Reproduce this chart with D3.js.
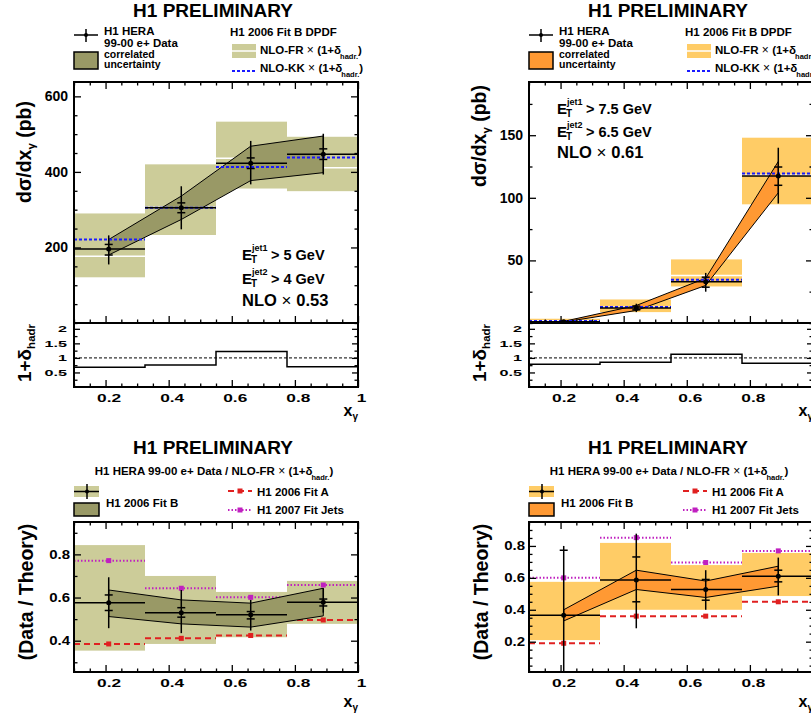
<!DOCTYPE html>
<html>
<head>
<meta charset="utf-8">
<script src="https://cdn.jsdelivr.net/npm/d3@7"></script>
<style>
  body { margin: 0; background: #fff; }
  svg { display: block; font-family: "Liberation Sans", Arial, Helvetica, sans-serif; font-weight: bold; }
  .axis path { display: none; }
  .axis line { stroke: #000; stroke-width: 1.3; }
  .axis text { fill: #000; font-weight: bold; font-family: "Liberation Sans", Arial, Helvetica, sans-serif; }
</style>
</head>
<body>
<svg id="chart" width="811" height="713"></svg>
<script>
// x_gamma binning (same for all four plots)
var xEdges = [0.1, 0.325, 0.55, 0.775, 1.0];
var xPoints = [0.21, 0.44, 0.66, 0.89];
var xTicks = [0.2, 0.4, 0.6, 0.8, 1];

// ---- left column: E_T jet1 > 5 GeV, jet2 > 4 GeV ----
var xsLo = [196, 305, 423, 447];
var xsLoStat = [[180, 208], [292, 318], [409, 437], [433, 461]];
var xsLoTot = [[155, 232], [248, 362], [367, 482], [393, 501]];
var xsLoCorrUp = [221, 336, 468, 495];
var xsLoCorrDn = [180, 274, 377, 398];
var nloFrLoUp = [290, 420, 533, 493];
var nloFrLoDn = [121, 233, 356, 349];
var nloFrLo = [177, 306, 436, 411];
var nloKkLo = [221, 305, 413, 438];
var hadrLo = [0.68, 0.76, 1.22, 0.70];
var yTicksLo = [200, 400, 600];

var ratLo = [0.576, 0.53, 0.52, 0.578];
var ratLoStat = [[0.54, 0.612], [0.509, 0.553], [0.501, 0.535], [0.561, 0.593]];
var ratLoTot = [[0.458, 0.694], [0.435, 0.635], [0.447, 0.589], [0.53, 0.643]];
var ratLoCorrUp = [0.635, 0.589, 0.574, 0.643];
var ratLoCorrDn = [0.512, 0.478, 0.463, 0.515];
var ratLoFrUp = [0.843, 0.70, 0.626, 0.677];
var ratLoFrDn = [0.354, 0.385, 0.416, 0.478];
var fitALo = [0.385, 0.411, 0.424, 0.496];
var fitJetsLo = [0.771, 0.643, 0.601, 0.658];
var rTicksLo = [0.4, 0.6, 0.8];

// ---- right column: E_T jet1 > 7.5 GeV, jet2 > 6.5 GeV ----
var xsHi = [1.0, 12, 33, 117.5];
var xsHiStat = [[0.8, 1.2], [10.5, 13.5], [28.6, 36.6], [110, 124.6]];
var xsHiTot = [[0.6, 1.4], [8.7, 15.4], [25, 40], [95.4, 140]];
var xsHiCorrUp = [1.3, 14, 35.8, 129];
var xsHiCorrDn = [0.8, 10, 30, 104];
var nloFrHiUp = [3.4, 18.8, 50.8, 148];
var nloFrHiDn = [0.3, 8.7, 29.2, 94.8];
var nloFrHi = [1.5, 12.5, 38, 118];
var nloKkHi = [1.5, 12.7, 34.5, 119.4];
var hadrHi = [0.78, 0.85, 1.13, 0.82];
var yTicksHi = [50, 100, 150];

var ratHi = [0.365, 0.587, 0.527, 0.61];
var ratHiStat = [[-0.05, 0.773], [0.45, 0.731], [0.46, 0.59], [0.575, 0.648]];
var ratHiTot = [[-0.08, 0.80], [0.284, 0.877], [0.40, 0.648], [0.49, 0.727]];
var ratHiCorrUp = [0.40, 0.648, 0.58, 0.673];
var ratHiCorrDn = [0.33, 0.527, 0.477, 0.548];
var ratHiFrUp = [0.575, 0.819, 0.68, 0.756];
var ratHiFrDn = [0.21, 0.40, 0.40, 0.486];
var fitAHi = [0.19, 0.36, 0.36, 0.45];
var fitJetsHi = [0.60, 0.852, 0.696, 0.769];
var rTicksHi = [0.2, 0.4, 0.6, 0.8];

var hadrTicks = [0.5, 1, 1.5, 2];

// frame geometry
var FX0 = 74, FX1 = 358, MAIN_T = 82, MAIN_B = 323, RAT_B = 387, BOT_T = 522, BOT_B = 672, COL_DX = 455;

var svg = d3.select('#chart');
var clipN = 0;

function steps(a, b, s) {
    var out = [];
    for (var i = Math.round(a / s); i * s <= b + 1e-9; i++) out.push(+(i * s).toFixed(4));
    return out;
}
function minorOf(a, b, s, majors) {
    return steps(a, b, s).filter(function(v) {
        return !majors.some(function(m) { return Math.abs(m - v) < 1e-6; });
    });
}

function clipped(g, x, y) {
    var id = 'clip' + (clipN++);
    var xr = x.range(), yr = y.range();
    g.append('clipPath').attr('id', id).append('rect')
        .attr('x', xr[0]).attr('y', yr[1]).attr('width', xr[1] - xr[0]).attr('height', yr[0] - yr[1]);
    return g.append('g').attr('clip-path', 'url(#' + id + ')');
}

// ROOT style: ticks inside the frame on all four sides
function drawAxes(g, x, y, o) {
    var xr = x.range(), yr = y.range();
    function mk(axis, tr) { return g.append('g').attr('class', 'axis').attr('transform', tr).call(axis); }
    var xMinor = minorOf(0.1, 1, 0.05, xTicks);
    var yMinor = o.yMinor;
    var fmt = function(d) { return String(d); };

    mk(d3.axisBottom(x).tickValues(xMinor).tickSize(-3.5).tickFormat(''), 'translate(0,' + yr[0] + ')');
    var bx = mk(d3.axisBottom(x).tickValues(xTicks).tickSize(-7).tickPadding(o.xPad || 0)
        .tickFormat(o.xLabels ? fmt : ''), 'translate(0,' + yr[0] + ')');
    if (o.xLabels) {
        bx.selectAll('text').style('font-size', o.xFont + 'px')
            .attr('transform', 'translate(3,0) scale(' + o.xScale + ',1)');
    }
    if (o.top) {
        mk(d3.axisTop(x).tickValues(xMinor).tickSize(-3.5).tickFormat(''), 'translate(0,' + yr[1] + ')');
        mk(d3.axisTop(x).tickValues(xTicks).tickSize(-7).tickFormat(''), 'translate(0,' + yr[1] + ')');
    }
    mk(d3.axisLeft(y).tickValues(yMinor).tickSize(-3.5).tickFormat(''), 'translate(' + xr[0] + ',0)');
    var ly = mk(d3.axisLeft(y).tickValues(o.yTicks).tickSize(-o.yTick).tickPadding(o.yPad / o.yScale)
        .tickFormat(fmt), 'translate(' + xr[0] + ',0)');
    ly.selectAll('text').style('font-size', o.yFont + 'px')
        .attr('transform', 'scale(' + o.yScale + ',1)');
    mk(d3.axisRight(y).tickValues(yMinor).tickSize(-3.5).tickFormat(''), 'translate(' + xr[1] + ',0)');
    mk(d3.axisRight(y).tickValues(o.yTicks).tickSize(-o.yTick).tickFormat(''), 'translate(' + xr[1] + ',0)');
}

function frame(g, x, y) {
    var xr = x.range(), yr = y.range();
    g.append('rect').attr('x', xr[0]).attr('y', yr[1])
        .attr('width', xr[1] - xr[0]).attr('height', yr[0] - yr[1])
        .attr('fill', 'none').attr('stroke', '#000').attr('stroke-width', 2);
}

function nloBoxes(g, x, y, up, dn, fill) {
    g.selectAll(null).data(d3.range(4)).join('rect')
        .attr('x', function(i) { return x(xEdges[i]); })
        .attr('width', function(i) { return x(xEdges[i + 1]) - x(xEdges[i]); })
        .attr('y', function(i) { return y(up[i]); })
        .attr('height', function(i) { return y(dn[i]) - y(up[i]); })
        .attr('fill', fill);
}

function binLines(g, x, y, vals, stroke, width, dash) {
    g.selectAll(null).data(vals).join('line')
        .attr('x1', function(d, i) { return x(xEdges[i]); })
        .attr('x2', function(d, i) { return x(xEdges[i + 1]); })
        .attr('y1', function(d) { return y(d); })
        .attr('y2', function(d) { return y(d); })
        .attr('stroke', stroke).attr('stroke-width', width)
        .attr('stroke-dasharray', dash || null);
}

function band(g, x, y, up, dn, fill) {
    var pts = xPoints.map(function(p, i) { return [x(p), y(up[i])]; });
    var low = xPoints.map(function(p, i) { return [x(p), y(dn[i])]; }).reverse();
    g.append('path').attr('d', d3.line()(pts.concat(low)) + 'Z')
        .attr('fill', fill).attr('stroke', '#000').attr('stroke-width', 1);
}

function dataPoints(g, x, y, vals, stat, tot) {
    binLines(g, x, y, vals, '#000', 1.5);
    xPoints.forEach(function(p, i) {
        var cx = x(p);
        g.append('line').attr('x1', cx).attr('x2', cx)
            .attr('y1', y(tot[i][0])).attr('y2', y(tot[i][1]))
            .attr('stroke', '#000').attr('stroke-width', 1.5);
        stat[i].forEach(function(v) {
            g.append('line').attr('x1', cx - 4).attr('x2', cx + 4)
                .attr('y1', y(v)).attr('y2', y(v))
                .attr('stroke', '#000').attr('stroke-width', 1.5);
        });
        g.append('circle').attr('cx', cx).attr('cy', y(vals[i])).attr('r', 2.5).attr('fill', '#000');
    });
}

function fitLine(g, x, y, vals, color, dash, width) {
    binLines(g, x, y, vals, color, width, dash);
    g.selectAll(null).data(vals).join('rect')
        .attr('x', function(d, i) { return x(xPoints[i]) - 2.5; })
        .attr('y', function(d) { return y(d) - 2.5; })
        .attr('width', 5).attr('height', 5).attr('fill', color);
}

// text with tspans: parts = [[text, size, dy, weight, dx]]
function rich(g, x, y, parts, anchor) {
    var t = g.append('text').attr('x', x).attr('y', y).attr('text-anchor', anchor || 'start');
    parts.forEach(function(p) {
        t.append('tspan').text(p[0]).style('font-size', p[1] + 'px')
            .attr('dy', p[2] || 0).attr('dx', p[4] || 0)
            .style('font-weight', p[3] || 'bold');
    });
    return t;
}

function hadrParts(size, sub) {
    return [['(1+δ', size], ['hadr.', sub, 5, 'bold', -1], [')', size, -5]];
}

function fitLegend(g, yy, color, dash) {
    g.append('line').attr('x1', 228).attr('x2', 252).attr('y1', yy).attr('y2', yy)
        .attr('stroke', color).attr('stroke-width', 2).attr('stroke-dasharray', dash);
    g.append('rect').attr('x', 237.5).attr('y', yy - 2.5).attr('width', 5).attr('height', 5).attr('fill', color);
}

var RED = '#e02020', MAG = '#c020c0', BLUE = '#1a1aff';

var cols = [
    { dx: 0, light: '#cccc99', dark: '#999966', yDom: [0, 638], yTicks: yTicksLo, yMinor: minorOf(0, 638, 50, yTicksLo),
      xs: xsLo, stat: xsLoStat, tot: xsLoTot, cUp: xsLoCorrUp, cDn: xsLoCorrDn,
      frUp: nloFrLoUp, frDn: nloFrLoDn, fr: nloFrLo, kk: nloKkLo, hadr: hadrLo,
      rDom: [0.255, 0.95], rTicks: rTicksLo, rMinor: minorOf(0.3, 0.9, 0.1, rTicksLo),
      rat: ratLo, rStat: ratLoStat, rTot: ratLoTot, rcUp: ratLoCorrUp, rcDn: ratLoCorrDn,
      rFrUp: ratLoFrUp, rFrDn: ratLoFrDn, fitA: fitALo, fitJ: fitJetsLo,
      cut1: '> 5 GeV', cut2: '> 4 GeV', scale: '0.53', cutX: 242, cutY: [260, 284, 306], titleY: 152 },
    { dx: COL_DX, light: '#ffcc66', dark: '#ff9933', yDom: [0, 192.5], yTicks: yTicksHi, yMinor: minorOf(0, 192, 25, yTicksHi),
      xs: xsHi, stat: xsHiStat, tot: xsHiTot, cUp: xsHiCorrUp, cDn: xsHiCorrDn,
      frUp: nloFrHiUp, frDn: nloFrHiDn, fr: nloFrHi, kk: nloKkHi, hadr: hadrHi,
      rDom: [0.01, 0.95], rTicks: rTicksHi, rMinor: minorOf(0.05, 0.9, 0.05, rTicksHi),
      rat: ratHi, rStat: ratHiStat, rTot: ratHiTot, rcUp: ratHiCorrUp, rcDn: ratHiCorrDn,
      rFrUp: ratHiFrUp, rFrDn: ratHiFrDn, fitA: fitAHi, fitJ: fitJetsHi,
      cut1: '> 7.5 GeV', cut2: '> 6.5 GeV', scale: '0.61', cutX: 557, cutY: [114, 137, 158], titleY: 136 }
];

cols.forEach(function(c) {
    var dx = c.dx;
    var g = svg.append('g');
    var x = d3.scaleLinear().domain([0.1, 1]).range([FX0 + dx, FX1 + dx]);

    // ---------- cross section ----------
    var y = d3.scaleLinear().domain(c.yDom).range([MAIN_B, MAIN_T]);
    var pg = clipped(g, x, y);
    nloBoxes(pg, x, y, c.frUp, c.frDn, c.light);
    binLines(pg, x, y, c.fr, '#fff', 1.5);
    band(pg, x, y, c.cUp, c.cDn, c.dark);
    binLines(pg, x, y, c.kk, BLUE, 2, '3,2');
    dataPoints(pg, x, y, c.xs, c.stat, c.tot);
    drawAxes(g, x, y, { top: true, xLabels: false, yTicks: c.yTicks, yMinor: c.yMinor, yTick: 7,
        yFont: 14, yScale: 1, yPad: 6 });
    frame(g, x, y);

    // ---------- hadronisation correction ----------
    var yh = d3.scaleLinear().domain([0, 2.2]).range([RAT_B, MAIN_B]);
    g.append('line').attr('x1', x(0.1)).attr('x2', x(1)).attr('y1', yh(1)).attr('y2', yh(1))
        .attr('stroke', '#000').attr('stroke-width', 1).attr('stroke-dasharray', '3,2');
    var stepPts = xEdges.map(function(e, i) { return [e, c.hadr[Math.min(i, 3)]]; });
    g.append('path')
        .attr('d', d3.line().x(function(d) { return x(d[0]); }).y(function(d) { return yh(d[1]); })
            .curve(d3.curveStepAfter)(stepPts))
        .attr('fill', 'none').attr('stroke', '#000').attr('stroke-width', 1.5);
    drawAxes(g, x, yh, { top: false, xLabels: true, xFont: 10.5, xScale: 1.65, xPad: 8,
        yTicks: hadrTicks, yMinor: minorOf(0.25, 2.0, 0.25, hadrTicks), yTick: 6,
        yFont: 8.5, yScale: 1.9, yPad: 7 });
    frame(g, x, yh);

    // ---------- data / theory ----------
    var yr = d3.scaleLinear().domain(c.rDom).range([BOT_B, BOT_T]);
    var rg = clipped(g, x, yr);
    nloBoxes(rg, x, yr, c.rFrUp, c.rFrDn, c.light);
    fitLine(rg, x, yr, c.fitA, RED, '6,4', 2);
    fitLine(rg, x, yr, c.fitJ, MAG, '1.5,2', 2);
    band(rg, x, yr, c.rcUp, c.rcDn, c.dark);
    dataPoints(rg, x, yr, c.rat, c.rStat, c.rTot);
    drawAxes(g, x, yr, { top: true, xLabels: true, xFont: 11.5, xScale: 1.5, xPad: 7,
        yTicks: c.rTicks, yMinor: c.rMinor, yTick: 7, yFont: 12.5, yScale: 1.2, yPad: 4 });
    frame(g, x, yr);

    // ---------- titles ----------
    g.append('text').attr('x', 213 + dx).attr('y', 17).attr('text-anchor', 'middle')
        .style('font-size', '19px').text('H1 PRELIMINARY');
    g.append('text').attr('x', 213 + dx).attr('y', 454).attr('text-anchor', 'middle')
        .style('font-size', '19px').text('H1 PRELIMINARY');
    rich(g, 214 + dx, 475, [['H1 HERA 99-00 e+ Data / NLO-FR', 11.5], [' × ', 12, 0, 'normal']]
        .concat(hadrParts(11.5, 7.5)), 'middle');

    // axis titles
    rich(g, 0, 0, [['dσ/dx', 19.5], ['γ', 11.5, 4], [' (pb)', 19.5, -4]], 'middle')
        .attr('transform', 'translate(' + (31 + dx) + ',' + c.titleY + ') rotate(-90)');
    rich(g, 0, 0, [['1+δ', 19], ['hadr', 11.5, 4]], 'middle')
        .attr('transform', 'translate(' + (31 + dx) + ',353) rotate(-90)');
    rich(g, 0, 0, [['(Data / Theory)', 19.5]], 'middle')
        .attr('transform', 'translate(' + (33 + dx) + ',592) rotate(-90)');
    [416, 707].forEach(function(by) {
        rich(g, 358 + dx, by, [['x', 16], ['γ', 10, 4]], 'end');
    });

    // cut annotations
    var cx0 = c.cutX;
    [[c.cutY[0], 'jet1', c.cut1], [c.cutY[1], 'jet2', c.cut2]].forEach(function(r) {
        g.append('text').attr('x', cx0).attr('y', r[0]).style('font-size', '15px').text('E');
        g.append('text').attr('x', cx0 + 10).attr('y', r[0] - 9).style('font-size', '9px').text(r[1]);
        g.append('text').attr('x', cx0 + 9).attr('y', r[0] + 3).style('font-size', '10px').text('T');
        g.append('text').attr('x', cx0 + 29).attr('y', r[0]).style('font-size', '14.5px').text(r[2]);
    });
    rich(g, cx0, c.cutY[2], [['NLO', 16.5], [' × ', 17, 0, 'normal'], [c.scale, 16.5]]);

    // ---------- top legend ----------
    var lg = g.append('g').attr('transform', 'translate(' + dx + ',0)');
    lg.append('line').attr('x1', 74).attr('x2', 98).attr('y1', 35).attr('y2', 35).attr('stroke', '#000').attr('stroke-width', 1.5);
    lg.append('line').attr('x1', 86).attr('x2', 86).attr('y1', 29).attr('y2', 42).attr('stroke', '#000').attr('stroke-width', 1.5);
    lg.append('circle').attr('cx', 86).attr('cy', 35).attr('r', 2).attr('fill', '#000');
    lg.append('rect').attr('x', 74).attr('y', 52).attr('width', 24).attr('height', 17)
        .attr('fill', c.dark).attr('stroke', '#000').attr('stroke-width', 1.5);
    lg.append('text').attr('x', 104).attr('y', 35).style('font-size', '11.5px').text('H1 HERA');
    lg.append('text').attr('x', 104).attr('y', 46.5).style('font-size', '11.5px').text('99-00 e+ Data');
    lg.append('text').attr('x', 104).attr('y', 58).style('font-size', '10.5px').text('correlated');
    lg.append('text').attr('x', 104).attr('y', 67.5).style('font-size', '10.5px').text('uncertainty');
    lg.append('text').attr('x', 230).attr('y', 36).style('font-size', '11.5px').text('H1 2006 Fit B DPDF');
    lg.append('rect').attr('x', 232).attr('y', 44).attr('width', 24).attr('height', 14).attr('fill', c.light);
    lg.append('line').attr('x1', 232).attr('x2', 256).attr('y1', 51).attr('y2', 51).attr('stroke', '#fff').attr('stroke-width', 1.5);
    rich(lg, 260, 54, [['NLO-FR', 11.5], [' × ', 12, 0, 'normal']].concat(hadrParts(11.5, 7.5)));
    lg.append('line').attr('x1', 232).attr('x2', 256).attr('y1', 71).attr('y2', 71)
        .attr('stroke', BLUE).attr('stroke-width', 2).attr('stroke-dasharray', '3,2');
    rich(lg, 260, 72, [['NLO-KK', 11.5], [' × ', 12, 0, 'normal']].concat(hadrParts(11.5, 7.5)));

    // ---------- bottom legend ----------
    lg.append('rect').attr('x', 74).attr('y', 486).attr('width', 25).attr('height', 11).attr('fill', c.light);
    lg.append('line').attr('x1', 74).attr('x2', 99).attr('y1', 491.5).attr('y2', 491.5).attr('stroke', '#000').attr('stroke-width', 1.5);
    lg.append('line').attr('x1', 87).attr('x2', 87).attr('y1', 484).attr('y2', 499).attr('stroke', '#000').attr('stroke-width', 1.5);
    lg.append('circle').attr('cx', 87).attr('cy', 491.5).attr('r', 2).attr('fill', '#000');
    lg.append('rect').attr('x', 74).attr('y', 503).attr('width', 25).attr('height', 13)
        .attr('fill', c.dark).attr('stroke', '#000').attr('stroke-width', 1.5);
    lg.append('text').attr('x', 106).attr('y', 507).style('font-size', '11.5px').text('H1 2006 Fit B');
    fitLegend(lg, 491, RED, '6,4');
    fitLegend(lg, 510, MAG, '1.5,2');
    lg.append('text').attr('x', 257).attr('y', 496).style('font-size', '11.5px').text('H1 2006 Fit A');
    lg.append('text').attr('x', 257).attr('y', 514).style('font-size', '11.5px').text('H1 2007 Fit Jets');
});
</script>
</body>
</html>
